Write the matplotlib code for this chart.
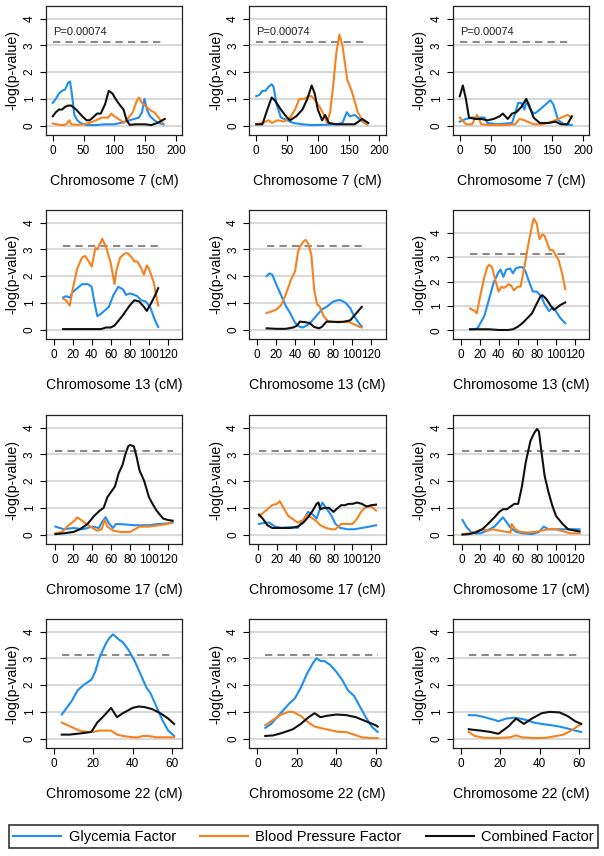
import matplotlib
matplotlib.use('Agg')
import matplotlib.pyplot as plt
from matplotlib.lines import Line2D

plt.rcParams['font.family'] = ['Liberation Sans', 'DejaVu Sans']

BLUE = '#1f8ef0'
ORANGE = '#f5821f'
BLACK = '#111111'
THRESH = 3.13  # -log10(0.00074)

# ---- chromosome 7 ----
chr7_glyc_1 = [(0, .85), (5, 1.0), (10, 1.2), (15, 1.3), (20, 1.35), (25, 1.6), (28, 1.65), (31, 1.2), (35, .4),
               (40, .2), (45, .1), (55, .02), (70, .02), (85, .05), (100, .05), (110, .1), (125, .2), (140, .3),
               (145, .5), (149, 1.0), (153, .6), (158, .35), (165, .2), (172, .1), (180, .05)]
chr7_bp_1 = [(0, .08), (8, .04), (15, .02), (22, .05), (27, .2), (30, .05), (40, .03), (50, .05), (60, .1), (70, .2),
             (80, .3), (90, .3), (95, .45), (100, .35), (110, .2), (115, .1), (120, .2), (130, .5), (136, .9),
             (140, 1.05), (145, .85), (152, .7), (160, .55), (165, .5), (172, .3), (178, .1)]
chr7_comb_1 = [(0, .35), (5, .5), (10, .6), (15, .6), (20, .7), (25, .75), (30, .75), (38, .6), (48, .35), (55, .2),
               (60, .2), (65, .3), (72, .45), (78, .45), (85, .8), (91, 1.3), (97, 1.2), (102, 1.0), (108, .8),
               (115, .6), (120, .2), (125, .03), (135, .05), (150, .05), (160, .02), (170, .1), (182, .25)]

chr7_glyc_2 = [(0, 1.1), (5, 1.15), (10, 1.3), (15, 1.3), (20, 1.45), (25, 1.55), (28, 1.45), (33, .8), (40, .3),
               (50, .2), (60, .1), (75, .05), (90, .02), (110, .03), (130, .05), (140, .1), (147, .5), (152, .35),
               (160, .4), (170, .2), (180, .05)]
chr7_bp_2 = [(0, .05), (10, .1), (20, .2), (25, .1), (35, .2), (45, .15), (55, .3), (63, .6), (70, 1.0), (78, 1.0),
             (85, 1.1), (90, 1.1), (97, .9), (103, .7), (110, .4), (115, .1), (120, .5), (125, 1.5), (130, 2.7),
             (135, 3.4), (140, 3.0), (148, 1.7), (155, 1.3), (165, .5), (175, .1), (180, .05)]
chr7_comb_2 = [(0, .05), (10, .05), (18, .6), (25, 1.05), (30, .95), (40, .6), (50, .3), (55, .2), (65, .35),
               (75, .6), (83, 1.0), (90, 1.5), (95, 1.2), (100, .6), (107, .2), (112, .4), (118, .1), (130, .05),
               (160, .05), (172, .25), (182, .1)]

chr7_glyc_3 = [(0, .15), (10, .25), (20, .3), (40, .3), (45, .1), (60, .05), (85, .1), (95, .85), (100, .85),
               (105, .6), (108, .9), (115, .6), (120, .45), (125, .5), (140, .8), (147, .95), (152, .8), (160, .2),
               (170, .05), (182, .02)]
chr7_bp_3 = [(0, .3), (10, .05), (20, .05), (28, .4), (35, .05), (50, .02), (70, .02), (90, .05), (97, .25),
             (105, .2), (120, .05), (135, .05), (150, .15), (165, .3), (175, .4), (182, .3)]
chr7_comb_3 = [(0, 1.1), (5, 1.5), (10, 1.0), (15, .3), (25, .25), (35, .25), (45, .2), (55, .25), (65, .35),
               (70, .45), (78, .25), (85, .45), (92, .5), (100, .7), (108, 1.0), (112, .8), (120, .3), (130, .1),
               (145, .1), (155, .15), (165, .05), (175, .05), (182, .35)]

# ---- chromosome 13 ----
chr13_glyc_1 = [(10, 1.2), (13, 1.25), (17, 1.2), (20, 1.4), (25, 1.55), (30, 1.7), (36, 1.7), (40, 1.6), (43, 1.0),
                (46, .5), (50, .6), (55, .75), (58, .85), (63, 1.3), (68, 1.6), (73, 1.5), (76, 1.3), (80, 1.35),
                (85, 1.3), (88, 1.25), (92, 1.1), (97, 1.05), (102, .8), (106, .4), (110, .1)]
chr13_bp_1 = [(10, 1.15), (13, 1.1), (17, .9), (20, 1.5), (25, 2.3), (30, 2.7), (33, 2.75), (37, 2.55), (40, 2.35),
              (44, 3.05), (46, 3.0), (50, 3.3), (51, 3.4), (55, 3.1), (60, 2.5), (64, 1.7), (66, 2.2), (70, 2.7),
              (75, 2.85), (78, 2.85), (82, 2.7), (85, 2.55), (88, 2.55), (92, 2.3), (95, 2.05), (98, 2.4),
              (100, 2.3), (105, 1.8), (110, .9)]
chr13_comb_1 = [(10, .02), (30, .02), (50, .02), (55, .08), (60, .08), (64, .15), (72, .5), (80, .9), (85, 1.1),
                (90, 1.05), (95, .85), (98, .7), (102, .95), (107, 1.3), (110, 1.55)]

chr13_glyc_2 = [(10, 2.0), (13, 2.1), (16, 2.05), (20, 1.7), (25, 1.3), (30, .9), (35, .6), (40, .25), (45, .1),
                (48, .08), (52, .15), (57, .3), (62, .5), (68, .75), (73, .85), (80, 1.05), (85, 1.1), (88, 1.1),
                (93, 1.0), (98, .8), (102, .5), (108, .2), (110, .12)]
chr13_bp_2 = [(10, .62), (15, .68), (20, .75), (25, .9), (30, 1.3), (35, 1.8), (40, 2.2), (43, 2.9), (45, 3.1),
              (49, 3.3), (51, 3.35), (54, 3.2), (57, 2.8), (60, 1.5), (63, .95), (66, .85), (70, .5), (75, .3),
              (80, .28), (85, .3), (90, .28), (95, .3), (102, .2), (108, .1), (110, .08)]
chr13_comb_2 = [(10, .05), (20, .03), (30, .03), (38, .08), (42, .15), (45, .3), (50, .28), (55, .25), (60, .1),
                (65, .05), (68, .1), (73, .3), (78, .3), (85, .28), (92, .3), (98, .35), (104, .6), (110, .85)]

chr13_glyc_3 = [(10, .05), (15, .05), (18, .1), (25, .6), (30, 1.3), (35, 2.0), (40, 2.4), (42, 2.5), (45, 2.2),
                (48, 2.5), (52, 2.55), (55, 2.35), (58, 2.55), (62, 2.6), (65, 2.6), (68, 2.45), (72, 2.0),
                (76, 1.6), (80, 1.6), (85, 1.4), (88, 1.1), (93, .8), (97, .95), (100, .8), (105, .5), (110, .3)]
chr13_bp_3 = [(10, .9), (15, .8), (17, .7), (20, 1.3), (25, 2.2), (28, 2.6), (30, 2.7), (33, 2.6), (37, 2.0),
              (40, 1.6), (43, 1.8), (45, 1.75), (48, 1.8), (50, 1.9), (53, 1.85), (56, 1.65), (60, 1.8), (63, 1.8),
              (67, 2.6), (71, 3.5), (75, 4.3), (77, 4.6), (80, 4.4), (83, 3.75), (86, 3.95), (88, 3.9), (91, 3.6),
              (94, 3.3), (97, 3.3), (100, 3.1), (103, 2.9), (107, 2.3), (110, 1.7)]
chr13_comb_3 = [(10, .05), (20, .05), (30, .05), (40, .02), (50, .02), (55, .05), (60, .15), (65, .3), (70, .5),
                (75, .7), (80, 1.1), (84, 1.4), (86, 1.45), (90, 1.3), (95, 1.0), (98, .85), (100, .9), (105, 1.05),
                (110, 1.15)]

# ---- chromosome 17 ----
chr17_glyc_1 = [(1, .3), (10, .2), (20, .25), (30, .2), (40, .3), (47, .25), (50, .45), (54, .65), (58, .4),
                (62, .25), (65, .4), (75, .38), (85, .35), (100, .35), (110, .4), (120, .42), (125, .45)]
chr17_bp_1 = [(1, .05), (8, .1), (15, .35), (22, .55), (24, .65), (30, .5), (38, .3), (45, .15), (50, .2), (53, .55),
              (56, .3), (62, .15), (70, .1), (80, .1), (85, .2), (90, .3), (100, .3), (110, .35), (120, .4),
              (125, .5)]
chr17_comb_1 = [(1, .02), (10, .05), (20, .1), (27, .2), (35, .4), (42, .7), (48, .9), (52, 1.0), (56, 1.4),
                (62, 1.7), (64, 1.8), (68, 2.3), (72, 2.6), (75, 3.0), (78, 3.3), (80, 3.35), (84, 3.3), (87, 2.9),
                (90, 2.4), (95, 2.0), (100, 1.4), (103, 1.2), (108, .9), (115, .6), (120, .55), (125, .52)]

chr17_glyc_2 = [(1, .4), (8, .45), (12, .45), (18, .3), (25, .25), (35, .28), (42, .25), (48, .55), (53, .85),
                (58, .75), (62, .6), (65, .9), (68, 1.2), (72, 1.0), (77, .75), (82, .4), (87, .25), (95, .2),
                (102, .2), (110, .25), (118, .3), (125, .35)]
chr17_bp_2 = [(1, .7), (5, .8), (10, .95), (15, 1.1), (20, 1.15), (23, 1.25), (27, 1.0), (32, .7), (38, .55),
              (42, .45), (48, .55), (52, .75), (56, .65), (62, .5), (66, .35), (72, .25), (78, .2), (82, .2),
              (85, .3), (88, .4), (95, .4), (100, .4), (105, .6), (110, .9), (115, 1.05), (120, 1.05), (125, .9)]
chr17_comb_2 = [(1, .75), (5, .6), (10, .35), (15, .25), (25, .25), (35, .25), (42, .3), (48, .45), (53, .65),
                (58, .9), (62, 1.15), (64, 1.2), (66, .95), (70, 1.0), (75, 1.0), (80, .85), (83, .95), (88, 1.1),
                (92, 1.1), (96, 1.15), (100, 1.15), (105, 1.2), (110, 1.15), (115, 1.05), (120, 1.1), (125, 1.12)]

chr17_glyc_3 = [(1, .55), (5, .3), (10, .1), (15, .05), (20, .05), (27, .15), (35, .3), (40, .5), (44, .65),
                (48, .45), (52, .25), (58, .1), (65, .05), (75, .02), (82, .1), (87, .3), (92, .2), (100, .2),
                (110, .2), (118, .2), (125, .2)]
chr17_bp_3 = [(1, .02), (10, .05), (18, .15), (22, .2), (28, .15), (33, .2), (40, .15), (48, .1), (52, .08),
              (53, .4), (57, .2), (62, .1), (70, .08), (78, .1), (85, .15), (92, .2), (100, .2), (105, .15),
              (115, .05), (120, .05), (125, .05)]
chr17_comb_3 = [(1, 0), (8, .02), (15, .08), (22, .2), (28, .4), (35, .65), (40, .85), (44, .95), (48, .95),
                (52, 1.05), (56, 1.15), (60, 1.15), (64, 1.8), (68, 2.7), (73, 3.5), (77, 3.8), (80, 3.95),
                (82, 3.85), (85, 3.0), (88, 2.2), (92, 1.6), (96, 1.1), (100, .7), (107, .4), (113, .2), (120, .15),
                (125, .12)]

# ---- chromosome 22 ----
chr22_glyc_1 = [(4, .9), (6, 1.1), (9, 1.4), (12, 1.8), (15, 2.0), (18, 2.15), (19, 2.2), (21, 2.5), (23, 3.0),
                (26, 3.5), (28, 3.75), (30, 3.9), (33, 3.7), (35, 3.6), (38, 3.3), (41, 2.9), (44, 2.4), (47, 1.9),
                (49, 1.7), (52, 1.2), (55, .7), (58, .3), (61, .1)]
chr22_bp_1 = [(4, .6), (7, .5), (10, .4), (13, .3), (17, .25), (20, .25), (23, .3), (26, .3), (29, .3), (32, .15),
              (35, .1), (40, .05), (43, .05), (45, .1), (48, .1), (52, .05), (58, .05), (61, .05)]
chr22_comb_1 = [(4, .15), (8, .15), (14, .2), (19, .25), (22, .6), (26, .9), (29, 1.15), (32, .8), (35, .95),
                (40, 1.15), (43, 1.2), (46, 1.18), (50, 1.1), (54, .95), (58, .75), (61, .55)]

chr22_glyc_2 = [(4, .4), (7, .55), (10, .8), (13, 1.05), (16, 1.3), (19, 1.5), (22, 1.9), (25, 2.4), (28, 2.8),
                (30, 3.0), (32, 2.9), (34, 2.9), (37, 2.75), (40, 2.5), (43, 2.2), (46, 1.8), (49, 1.6), (52, 1.2),
                (55, .8), (58, .45), (61, .25)]
chr22_bp_2 = [(4, .5), (8, .7), (12, .9), (16, 1.0), (18, 1.0), (22, .85), (25, .65), (29, .45), (32, .4), (35, .35),
              (38, .3), (41, .25), (45, .25), (49, .15), (53, .05), (57, .02), (61, .02)]
chr22_comb_2 = [(4, .1), (8, .12), (12, .2), (18, .35), (22, .55), (26, .8), (29, .95), (32, .8), (35, .85),
                (40, .9), (45, .88), (50, .8), (55, .65), (60, .5), (61, .45)]

chr22_glyc_3 = [(4, .88), (8, .87), (12, .8), (17, .7), (19, .65), (23, .75), (27, .78), (30, .75), (33, .7),
                (37, .6), (41, .55), (46, .5), (50, .45), (54, .38), (58, .3), (61, .25)]
chr22_bp_3 = [(4, .25), (7, .1), (12, .03), (18, .02), (25, .05), (28, .12), (31, .05), (37, .02), (43, .03),
              (47, .08), (52, .15), (56, .3), (60, .5), (61, .55)]
chr22_comb_3 = [(4, .35), (10, .3), (15, .25), (19, .18), (24, .45), (28, .75), (32, .55), (36, .75), (41, .95),
                (45, 1.0), (50, .98), (54, .85), (58, .65), (61, .55)]

rows = [
    ('Chromosome 7 (cM)', [0, 50, 100, 150, 200], (-11, 210), (0, 182),
     [(chr7_glyc_1, chr7_bp_1, chr7_comb_1), (chr7_glyc_2, chr7_bp_2, chr7_comb_2),
      (chr7_glyc_3, chr7_bp_3, chr7_comb_3)]),
    ('Chromosome 13 (cM)', [0, 20, 40, 60, 80, 100, 120], (-8, 135), (10, 110),
     [(chr13_glyc_1, chr13_bp_1, chr13_comb_1), (chr13_glyc_2, chr13_bp_2, chr13_comb_2),
      (chr13_glyc_3, chr13_bp_3, chr13_comb_3)]),
    ('Chromosome 17 (cM)', [0, 20, 40, 60, 80, 100, 120], (-9, 135), (1, 125),
     [(chr17_glyc_1, chr17_bp_1, chr17_comb_1), (chr17_glyc_2, chr17_bp_2, chr17_comb_2),
      (chr17_glyc_3, chr17_bp_3, chr17_comb_3)]),
    ('Chromosome 22 (cM)', [0, 20, 40, 60], (-4, 65), (4, 61),
     [(chr22_glyc_1, chr22_bp_1, chr22_comb_1), (chr22_glyc_2, chr22_bp_2, chr22_comb_2),
      (chr22_glyc_3, chr22_bp_3, chr22_comb_3)]),
]

W, H = 604, 856
fig = plt.figure(figsize=(W / 100, H / 100), dpi=100)

col_left = [46, 249.5, 453]
row_top = [6, 210, 415, 619]
aw, ah = 136, 129

for r, (xlab, xticks, xlim, span, panels) in enumerate(rows):
    for c, (glyc, bp, comb) in enumerate(panels):
        ax = fig.add_axes([col_left[c] / W, 1 - (row_top[r] + ah) / H, aw / W, ah / H])
        ymax = max(y for _, y in bp + glyc + comb)
        top = 4.47 if ymax < 4.2 else 4.95
        for g in range(5):
            ax.axhline(g, color='#d9d9d9', lw=1.5, zorder=0)
        ax.plot(span, [THRESH, THRESH], color='#8a8a8a', lw=1.5, ls=(0, (3.5, 2.5)), zorder=1)
        for series, col in ((glyc, BLUE), (bp, ORANGE), (comb, BLACK)):
            xs, ys = zip(*series)
            ax.plot(xs, ys, color=col, lw=1.5, zorder=2)
        if r == 0:
            ax.text(0, 3.3, 'P=0.00074', fontsize=8, color='#222222', va='bottom')
        ax.set_xlim(*xlim)
        ax.set_ylim(-0.35, top)
        ax.set_xticks(xticks)
        ax.set_yticks([0, 1, 2, 3, 4])
        ax.tick_params(direction='out', length=4, width=0.8, labelsize=8.5, pad=3.5)
        for lbl in ax.get_yticklabels():
            lbl.set_rotation(90)
            lbl.set_va('center')
        ax.set_xlabel(xlab, fontsize=10.2, labelpad=12)
        ax.set_ylabel('-log(p-value)', fontsize=10.2, labelpad=3)
        for s in ax.spines.values():
            s.set_linewidth(0.9)
            s.set_color('#222222')

handles = [Line2D([], [], color=BLUE, lw=1.5), Line2D([], [], color=ORANGE, lw=1.5),
           Line2D([], [], color=BLACK, lw=1.5)]
leg = fig.legend(handles, ['Glycemia Factor', 'Blood Pressure Factor', 'Combined Factor'],
                 loc='lower left', bbox_to_anchor=(9 / W, 1 - 848 / H, 589 / W, 25 / H),
                 ncol=3, mode='expand', fontsize=10.5, handlelength=3.3, handletextpad=0.5,
                 borderaxespad=0, fancybox=False, frameon=True, borderpad=0.3)
leg.get_frame().set_edgecolor('black')
leg.get_frame().set_linewidth(1.2)

fig.savefig('out.png', dpi=100)
